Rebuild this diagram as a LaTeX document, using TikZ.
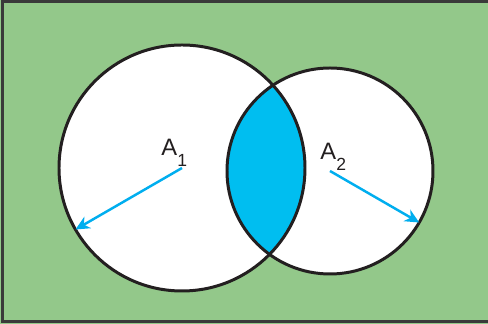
\documentclass[tikz,border=0pt]{standalone}
\usepackage{fontspec}
\setmainfont{Liberation Sans}
\usetikzlibrary{arrows.meta,calc}
\definecolor{bggreen}{RGB}{147,200,138}
\definecolor{lenscyan}{RGB}{0,190,240}
\definecolor{arrowcyan}{RGB}{0,174,239}
\definecolor{rimblack}{RGB}{35,31,32}
\definecolor{framegray}{RGB}{58,58,58}
\tikzset{
  radiusarrow/.style={draw=arrowcyan, line width=1.4pt, -{Stealth[length=8pt,width=7.5pt,inset=2.5pt]}},
  setlabel/.style={font=\fontsize{13.5}{16}\selectfont, inner sep=0pt, anchor=base west, text=rimblack}
}
\newcommand{\lowsub}[1]{\raisebox{-0.21cm}{\fontsize{10}{12}\selectfont #1}}
\begin{document}
\begin{tikzpicture}[x=0.02cm, y=0.02cm, line width=1.7pt]
  \useasboundingbox (0,0) rectangle (488,324);
  % universe
  \fill[bggreen] (0,0) rectangle (488,324);
  \draw[framegray] (2.5,2.5) rectangle (492,322.5);
  % the two sets
  \coordinate (c1) at (182,156);
  \coordinate (c2) at (330,153);
  \fill[white] (c1) circle (123);
  \fill[white] (c2) circle (103);
  \begin{scope}
    \clip (c1) circle (123);
    \fill[lenscyan] (c2) circle (103);
  \end{scope}
  \draw[rimblack] (c1) circle (123);
  \draw[rimblack] (c2) circle (103);
  % radii
  \coordinate (e1) at ($(c1)+(210:123)$);
  \coordinate (e2) at ($(c2)+(-30:103)$);
  \draw[radiusarrow] (c1) -- (e1);
  \draw[radiusarrow] (c2) -- (e2);
  \node[setlabel] (a1) at (160,168) {A\lowsub{1}};
  \node[setlabel] (a2) at (319,164) {A\lowsub{2}};
\end{tikzpicture}
\end{document}
